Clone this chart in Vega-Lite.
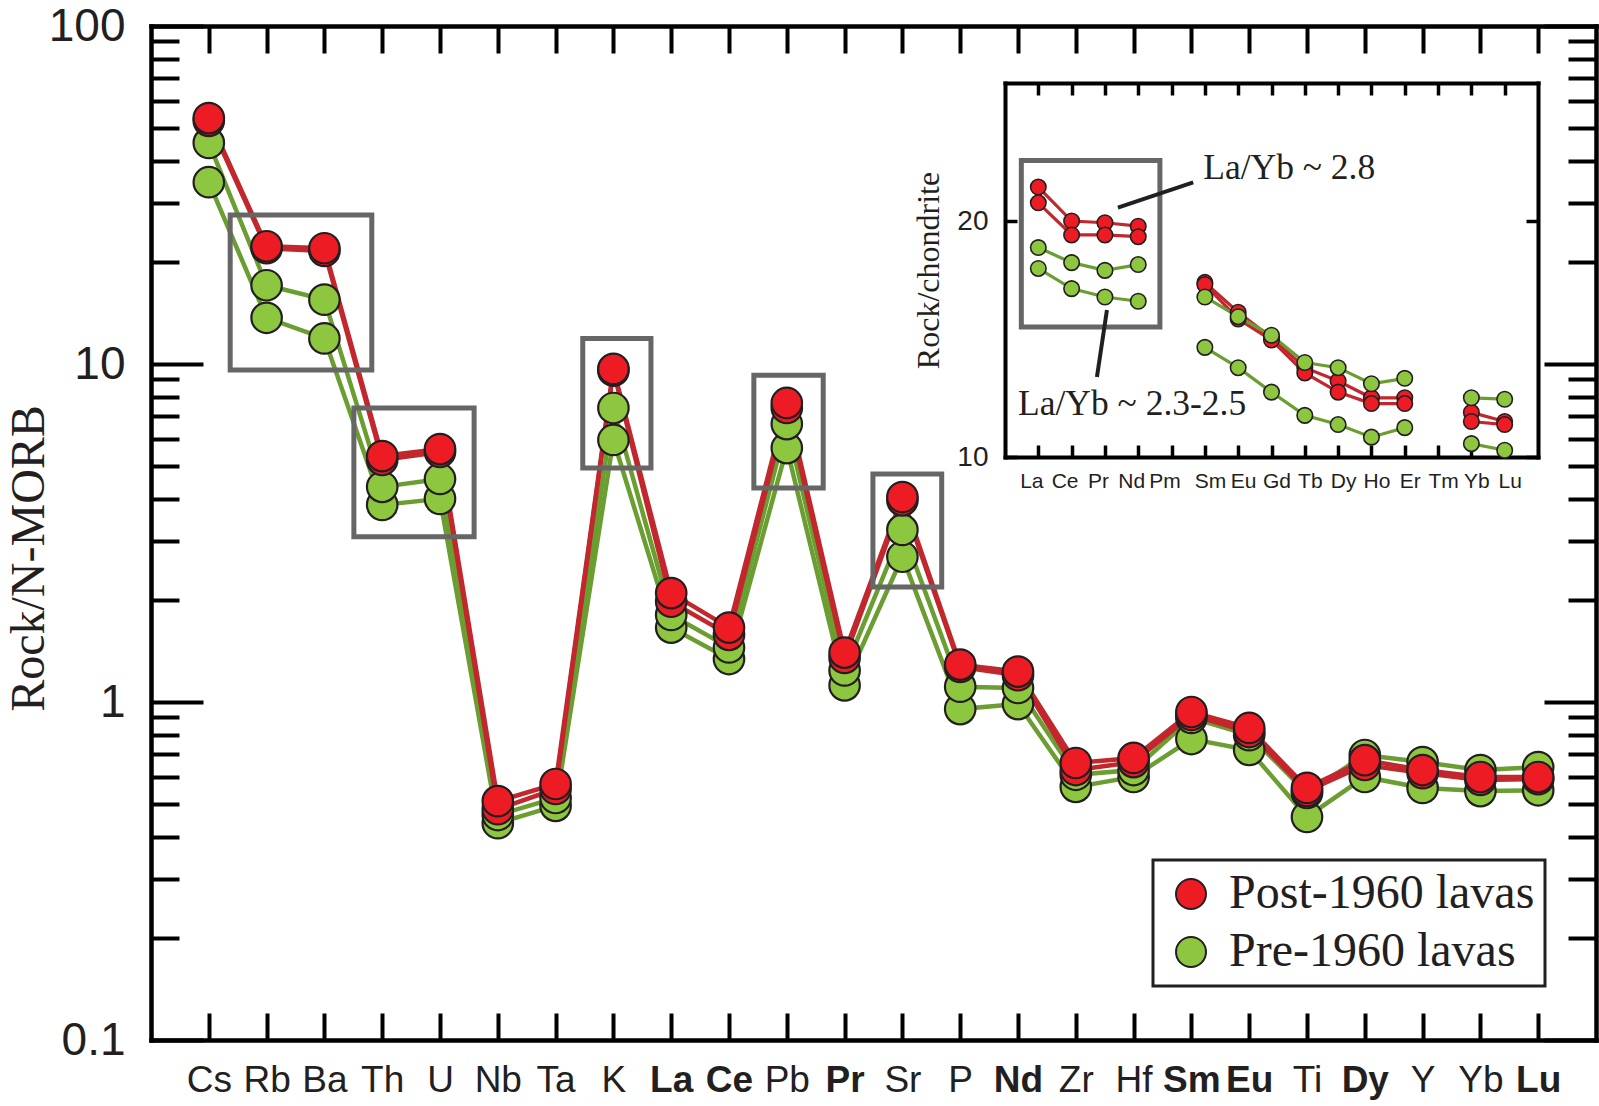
{
  "$schema": "https://vega.github.io/schema/vega-lite/v6.json",
  "width": 1445,
  "height": 1014,
  "autosize": {"type": "none"},
  "padding": {"left": 151, "top": 26, "right": 3, "bottom": 66},
  "background": "white",
  "config": {
    "view": {"stroke": null},
    "axis": {"grid": false, "domainColor": "#000000", "tickColor": "#000000", "labelColor": "#231f20", "titleColor": "#231f20", "labelFlush": false, "labelOverlap": false, "domainCap": "square"},
    "legend": {"strokeWidth": 3}
  },
  "datasets": {
    "main": [
      {"i":1,"el":"Cs","s":"G2","g":"Pre-1960 lavas","v":34.5},
      {"i":2,"el":"Rb","s":"G2","g":"Pre-1960 lavas","v":13.7},
      {"i":3,"el":"Ba","s":"G2","g":"Pre-1960 lavas","v":11.9},
      {"i":4,"el":"Th","s":"G2","g":"Pre-1960 lavas","v":3.83},
      {"i":5,"el":"U","s":"G2","g":"Pre-1960 lavas","v":3.99},
      {"i":6,"el":"Nb","s":"G2","g":"Pre-1960 lavas","v":0.438},
      {"i":7,"el":"Ta","s":"G2","g":"Pre-1960 lavas","v":0.493},
      {"i":8,"el":"K","s":"G2","g":"Pre-1960 lavas","v":5.96},
      {"i":9,"el":"La","s":"G2","g":"Pre-1960 lavas","v":1.66},
      {"i":10,"el":"Ce","s":"G2","g":"Pre-1960 lavas","v":1.34},
      {"i":11,"el":"Pb","s":"G2","g":"Pre-1960 lavas","v":5.64},
      {"i":12,"el":"Pr","s":"G2","g":"Pre-1960 lavas","v":1.12},
      {"i":13,"el":"Sr","s":"G2","g":"Pre-1960 lavas","v":2.69},
      {"i":14,"el":"P","s":"G2","g":"Pre-1960 lavas","v":0.953},
      {"i":15,"el":"Nd","s":"G2","g":"Pre-1960 lavas","v":0.986},
      {"i":16,"el":"Zr","s":"G2","g":"Pre-1960 lavas","v":0.561},
      {"i":17,"el":"Hf","s":"G2","g":"Pre-1960 lavas","v":0.600},
      {"i":18,"el":"Sm","s":"G2","g":"Pre-1960 lavas","v":0.777},
      {"i":19,"el":"Eu","s":"G2","g":"Pre-1960 lavas","v":0.721},
      {"i":20,"el":"Ti","s":"G2","g":"Pre-1960 lavas","v":0.457},
      {"i":21,"el":"Dy","s":"G2","g":"Pre-1960 lavas","v":0.600},
      {"i":22,"el":"Y","s":"G2","g":"Pre-1960 lavas","v":0.557},
      {"i":23,"el":"Yb","s":"G2","g":"Pre-1960 lavas","v":0.545},
      {"i":24,"el":"Lu","s":"G2","g":"Pre-1960 lavas","v":0.548},
      {"i":1,"el":"Cs","s":"G1","g":"Pre-1960 lavas","v":45.1},
      {"i":2,"el":"Rb","s":"G1","g":"Pre-1960 lavas","v":17.1},
      {"i":3,"el":"Ba","s":"G1","g":"Pre-1960 lavas","v":15.5},
      {"i":4,"el":"Th","s":"G1","g":"Pre-1960 lavas","v":4.33},
      {"i":5,"el":"U","s":"G1","g":"Pre-1960 lavas","v":4.57},
      {"i":6,"el":"Nb","s":"G1","g":"Pre-1960 lavas","v":0.463},
      {"i":7,"el":"Ta","s":"G1","g":"Pre-1960 lavas","v":0.520},
      {"i":8,"el":"K","s":"G1","g":"Pre-1960 lavas","v":7.41},
      {"i":9,"el":"La","s":"G1","g":"Pre-1960 lavas","v":1.81},
      {"i":10,"el":"Ce","s":"G1","g":"Pre-1960 lavas","v":1.45},
      {"i":11,"el":"Pb","s":"G1","g":"Pre-1960 lavas","v":6.64},
      {"i":12,"el":"Pr","s":"G1","g":"Pre-1960 lavas","v":1.24},
      {"i":13,"el":"Sr","s":"G1","g":"Pre-1960 lavas","v":3.23},
      {"i":14,"el":"P","s":"G1","g":"Pre-1960 lavas","v":1.11},
      {"i":15,"el":"Nd","s":"G1","g":"Pre-1960 lavas","v":1.10},
      {"i":16,"el":"Zr","s":"G1","g":"Pre-1960 lavas","v":0.609},
      {"i":17,"el":"Hf","s":"G1","g":"Pre-1960 lavas","v":0.629},
      {"i":18,"el":"Sm","s":"G1","g":"Pre-1960 lavas","v":0.897},
      {"i":19,"el":"Eu","s":"G1","g":"Pre-1960 lavas","v":0.798},
      {"i":20,"el":"Ti","s":"G1","g":"Pre-1960 lavas","v":0.538},
      {"i":21,"el":"Dy","s":"G1","g":"Pre-1960 lavas","v":0.697},
      {"i":22,"el":"Y","s":"G1","g":"Pre-1960 lavas","v":0.664},
      {"i":23,"el":"Yb","s":"G1","g":"Pre-1960 lavas","v":0.629},
      {"i":24,"el":"Lu","s":"G1","g":"Pre-1960 lavas","v":0.642},
      {"i":1,"el":"Cs","s":"R2","g":"Post-1960 lavas","v":52.4},
      {"i":2,"el":"Rb","s":"R2","g":"Post-1960 lavas","v":22.0},
      {"i":3,"el":"Ba","s":"R2","g":"Post-1960 lavas","v":21.6},
      {"i":4,"el":"Th","s":"R2","g":"Post-1960 lavas","v":5.20},
      {"i":5,"el":"U","s":"R2","g":"Post-1960 lavas","v":5.49},
      {"i":6,"el":"Nb","s":"R2","g":"Post-1960 lavas","v":0.482},
      {"i":7,"el":"Ta","s":"R2","g":"Post-1960 lavas","v":0.553},
      {"i":8,"el":"K","s":"R2","g":"Post-1960 lavas","v":9.55},
      {"i":9,"el":"La","s":"R2","g":"Post-1960 lavas","v":1.98},
      {"i":10,"el":"Ce","s":"R2","g":"Post-1960 lavas","v":1.58},
      {"i":11,"el":"Pb","s":"R2","g":"Post-1960 lavas","v":7.41},
      {"i":12,"el":"Pr","s":"R2","g":"Post-1960 lavas","v":1.35},
      {"i":13,"el":"Sr","s":"R2","g":"Post-1960 lavas","v":3.95},
      {"i":14,"el":"P","s":"R2","g":"Post-1960 lavas","v":1.27},
      {"i":15,"el":"Nd","s":"R2","g":"Post-1960 lavas","v":1.20},
      {"i":16,"el":"Zr","s":"R2","g":"Post-1960 lavas","v":0.629},
      {"i":17,"el":"Hf","s":"R2","g":"Post-1960 lavas","v":0.664},
      {"i":18,"el":"Sm","s":"R2","g":"Post-1960 lavas","v":0.915},
      {"i":19,"el":"Eu","s":"R2","g":"Post-1960 lavas","v":0.815},
      {"i":20,"el":"Ti","s":"R2","g":"Post-1960 lavas","v":0.545},
      {"i":21,"el":"Dy","s":"R2","g":"Post-1960 lavas","v":0.651},
      {"i":22,"el":"Y","s":"R2","g":"Post-1960 lavas","v":0.616},
      {"i":23,"el":"Yb","s":"R2","g":"Post-1960 lavas","v":0.588},
      {"i":24,"el":"Lu","s":"R2","g":"Post-1960 lavas","v":0.591},
      {"i":1,"el":"Cs","s":"R1","g":"Post-1960 lavas","v":53.4},
      {"i":2,"el":"Rb","s":"R1","g":"Post-1960 lavas","v":22.3},
      {"i":3,"el":"Ba","s":"R1","g":"Post-1960 lavas","v":22.0},
      {"i":4,"el":"Th","s":"R1","g":"Post-1960 lavas","v":5.34},
      {"i":5,"el":"U","s":"R1","g":"Post-1960 lavas","v":5.60},
      {"i":6,"el":"Nb","s":"R1","g":"Post-1960 lavas","v":0.509},
      {"i":7,"el":"Ta","s":"R1","g":"Post-1960 lavas","v":0.572},
      {"i":8,"el":"K","s":"R1","g":"Post-1960 lavas","v":9.67},
      {"i":9,"el":"La","s":"R1","g":"Post-1960 lavas","v":2.10},
      {"i":10,"el":"Ce","s":"R1","g":"Post-1960 lavas","v":1.66},
      {"i":11,"el":"Pb","s":"R1","g":"Post-1960 lavas","v":7.67},
      {"i":12,"el":"Pr","s":"R1","g":"Post-1960 lavas","v":1.40},
      {"i":13,"el":"Sr","s":"R1","g":"Post-1960 lavas","v":4.04},
      {"i":14,"el":"P","s":"R1","g":"Post-1960 lavas","v":1.29},
      {"i":15,"el":"Nd","s":"R1","g":"Post-1960 lavas","v":1.23},
      {"i":16,"el":"Zr","s":"R1","g":"Post-1960 lavas","v":0.660},
      {"i":17,"el":"Hf","s":"R1","g":"Post-1960 lavas","v":0.683},
      {"i":18,"el":"Sm","s":"R1","g":"Post-1960 lavas","v":0.934},
      {"i":19,"el":"Eu","s":"R1","g":"Post-1960 lavas","v":0.838},
      {"i":20,"el":"Ti","s":"R1","g":"Post-1960 lavas","v":0.557},
      {"i":21,"el":"Dy","s":"R1","g":"Post-1960 lavas","v":0.673},
      {"i":22,"el":"Y","s":"R1","g":"Post-1960 lavas","v":0.629},
      {"i":23,"el":"Yb","s":"R1","g":"Post-1960 lavas","v":0.600},
      {"i":24,"el":"Lu","s":"R1","g":"Post-1960 lavas","v":0.600}
    ],
    "mboxes": [
      {"i":1.37,"i2":3.82,"v":9.6,"v2":27.6},
      {"i":3.51,"i2":5.59,"v":3.08,"v2":7.41},
      {"i":7.47,"i2":8.65,"v":4.92,"v2":11.9},
      {"i":10.43,"i2":11.63,"v":4.30,"v2":9.27},
      {"i":12.49,"i2":13.68,"v":2.19,"v2":4.73}
    ],
    "ree": [
      {"i":1,"el":"La","s":"R1","seg":"a","g":"Post-1960 lavas","v":22.1},
      {"i":2,"el":"Ce","s":"R1","seg":"a","g":"Post-1960 lavas","v":20.0},
      {"i":3,"el":"Pr","s":"R1","seg":"a","g":"Post-1960 lavas","v":19.9},
      {"i":4,"el":"Nd","s":"R1","seg":"a","g":"Post-1960 lavas","v":19.7},
      {"i":6,"el":"Sm","s":"R1","seg":"b","g":"Post-1960 lavas","v":16.7},
      {"i":7,"el":"Eu","s":"R1","seg":"b","g":"Post-1960 lavas","v":15.3},
      {"i":8,"el":"Gd","s":"R1","seg":"b","g":"Post-1960 lavas","v":14.2},
      {"i":9,"el":"Tb","s":"R1","seg":"b","g":"Post-1960 lavas","v":13.0},
      {"i":10,"el":"Dy","s":"R1","seg":"b","g":"Post-1960 lavas","v":12.5},
      {"i":11,"el":"Ho","s":"R1","seg":"b","g":"Post-1960 lavas","v":11.9},
      {"i":12,"el":"Er","s":"R1","seg":"b","g":"Post-1960 lavas","v":11.9},
      {"i":14,"el":"Yb","s":"R1","seg":"c","g":"Post-1960 lavas","v":11.4},
      {"i":15,"el":"Lu","s":"R1","seg":"c","g":"Post-1960 lavas","v":11.1},
      {"i":1,"el":"La","s":"R2","seg":"a","g":"Post-1960 lavas","v":21.1},
      {"i":2,"el":"Ce","s":"R2","seg":"a","g":"Post-1960 lavas","v":19.2},
      {"i":3,"el":"Pr","s":"R2","seg":"a","g":"Post-1960 lavas","v":19.2},
      {"i":4,"el":"Nd","s":"R2","seg":"a","g":"Post-1960 lavas","v":19.1},
      {"i":6,"el":"Sm","s":"R2","seg":"b","g":"Post-1960 lavas","v":16.6},
      {"i":7,"el":"Eu","s":"R2","seg":"b","g":"Post-1960 lavas","v":15.0},
      {"i":8,"el":"Gd","s":"R2","seg":"b","g":"Post-1960 lavas","v":14.1},
      {"i":9,"el":"Tb","s":"R2","seg":"b","g":"Post-1960 lavas","v":12.8},
      {"i":10,"el":"Dy","s":"R2","seg":"b","g":"Post-1960 lavas","v":12.1},
      {"i":11,"el":"Ho","s":"R2","seg":"b","g":"Post-1960 lavas","v":11.7},
      {"i":12,"el":"Er","s":"R2","seg":"b","g":"Post-1960 lavas","v":11.7},
      {"i":14,"el":"Yb","s":"R2","seg":"c","g":"Post-1960 lavas","v":11.1},
      {"i":15,"el":"Lu","s":"R2","seg":"c","g":"Post-1960 lavas","v":11.0},
      {"i":1,"el":"La","s":"G1","seg":"a","g":"Pre-1960 lavas","v":18.5},
      {"i":2,"el":"Ce","s":"G1","seg":"a","g":"Pre-1960 lavas","v":17.7},
      {"i":3,"el":"Pr","s":"G1","seg":"a","g":"Pre-1960 lavas","v":17.3},
      {"i":4,"el":"Nd","s":"G1","seg":"a","g":"Pre-1960 lavas","v":17.6},
      {"i":6,"el":"Sm","s":"G1","seg":"b","g":"Pre-1960 lavas","v":16.0},
      {"i":7,"el":"Eu","s":"G1","seg":"b","g":"Pre-1960 lavas","v":15.1},
      {"i":8,"el":"Gd","s":"G1","seg":"b","g":"Pre-1960 lavas","v":14.3},
      {"i":9,"el":"Tb","s":"G1","seg":"b","g":"Pre-1960 lavas","v":13.2},
      {"i":10,"el":"Dy","s":"G1","seg":"b","g":"Pre-1960 lavas","v":13.0},
      {"i":11,"el":"Ho","s":"G1","seg":"b","g":"Pre-1960 lavas","v":12.4},
      {"i":12,"el":"Er","s":"G1","seg":"b","g":"Pre-1960 lavas","v":12.6},
      {"i":14,"el":"Yb","s":"G1","seg":"c","g":"Pre-1960 lavas","v":11.9},
      {"i":15,"el":"Lu","s":"G1","seg":"c","g":"Pre-1960 lavas","v":11.85},
      {"i":1,"el":"La","s":"G2","seg":"a","g":"Pre-1960 lavas","v":17.4},
      {"i":2,"el":"Ce","s":"G2","seg":"a","g":"Pre-1960 lavas","v":16.4},
      {"i":3,"el":"Pr","s":"G2","seg":"a","g":"Pre-1960 lavas","v":16.0},
      {"i":4,"el":"Nd","s":"G2","seg":"a","g":"Pre-1960 lavas","v":15.8},
      {"i":6,"el":"Sm","s":"G2","seg":"b","g":"Pre-1960 lavas","v":13.8},
      {"i":7,"el":"Eu","s":"G2","seg":"b","g":"Pre-1960 lavas","v":13.0},
      {"i":8,"el":"Gd","s":"G2","seg":"b","g":"Pre-1960 lavas","v":12.1},
      {"i":9,"el":"Tb","s":"G2","seg":"b","g":"Pre-1960 lavas","v":11.3},
      {"i":10,"el":"Dy","s":"G2","seg":"b","g":"Pre-1960 lavas","v":11.0},
      {"i":11,"el":"Ho","s":"G2","seg":"b","g":"Pre-1960 lavas","v":10.6},
      {"i":12,"el":"Er","s":"G2","seg":"b","g":"Pre-1960 lavas","v":10.9},
      {"i":14,"el":"Yb","s":"G2","seg":"c","g":"Pre-1960 lavas","v":10.4},
      {"i":15,"el":"Lu","s":"G2","seg":"c","g":"Pre-1960 lavas","v":10.2}
    ],
    "ibox": [{"i":0.49,"i2":4.65,"v":14.65,"v2":23.9}],
    "irules": [
      {"i":3.39,"v":20.8,"i2":5.65,"v2":22.4},
      {"i":3.06,"v":15.4,"i2":2.76,"v2":12.65}
    ],
    "inotes": [
      {"i":5.95,"v":22.6,"t":"La/Yb ~ 2.8"},
      {"i":0.39,"v":11.3,"t":"La/Yb ~ 2.3-2.5"}
    ]
  },
  "layer": [
    {
      "layer": [
        {
          "data": {"name": "main"},
          "mark": {"type": "line", "strokeWidth": 4.5},
          "encoding": {
            "x": {"field": "i", "type": "quantitative",
              "scale": {"domain": [0, 25], "nice": false, "zero": false},
              "axis": {"orient": "bottom", "title": null,
                "values": [1,2,3,4,5,6,7,8,9,10,11,12,13,14,15,16,17,18,19,20,21,22,23,24],
                "labelExpr": "['Cs','Rb','Ba','Th','U','Nb','Ta','K','La','Ce','Pb','Pr','Sr','P','Nd','Zr','Hf','Sm','Eu','Ti','Dy','Y','Yb','Lu'][datum.value - 1]",
                "labelFont": "Liberation Sans", "labelFontSize": 37, "labelPadding": 49,
                "labelFontWeight": {"condition": {"test": "indexof([9,10,12,15,18,19,21,24], datum.value) >= 0", "value": "bold"}, "value": "normal"},
                "tickSize": -27, "tickWidth": 4, "domainWidth": 4.5}},
            "y": {"field": "v", "type": "quantitative",
              "scale": {"type": "log", "domain": [0.1, 100], "nice": false},
              "axis": {"orient": "left",
                "values": [0.1,0.2,0.3,0.4,0.5,0.6,0.7,0.8,0.9,1,2,3,4,5,6,7,8,9,10,20,30,40,50,60,70,80,90,100],
                "labelExpr": "datum.value == 0.1 ? '0.1' : datum.value == 1 ? '1' : datum.value == 10 ? '10' : datum.value == 100 ? '100' : ''",
                "labelFont": "Liberation Sans", "labelFontSize": 46, "labelPadding": 78, "labelBaseline": "middle",
                "tickSize": {"condition": {"test": "datum.value == 0.1 || datum.value == 1 || datum.value == 10 || datum.value == 100", "value": -52}, "value": -28},
                "tickWidth": 4, "domainWidth": 4.5,
                "title": "Rock/N-MORB", "titleFont": "Liberation Serif", "titleFontSize": 48, "titleFontWeight": "normal",
                "titleAngle": -90, "titleBaseline": "middle", "titleAlign": "center", "titleX": -122, "titleY": 532}},
            "stroke": {"field": "g", "type": "nominal",
              "scale": {"range": ["#c1272d", "#6a9e31"]}, "legend": null},
            "detail": {"field": "s"}
          }
        },
        {
          "data": {"name": "mboxes"},
          "mark": {"type": "rect", "filled": false, "stroke": "#666666", "strokeWidth": 5},
          "encoding": {
            "x": {"field": "i", "type": "quantitative", "axis": null},
            "x2": {"field": "i2"},
            "y": {"field": "v", "type": "quantitative", "axis": null},
            "y2": {"field": "v2"}
          }
        },
        {
          "data": {"name": "main"},
          "mark": {"type": "point", "filled": true, "size": 930, "stroke": "#231f20", "strokeWidth": 2.2, "opacity": 1},
          "encoding": {
            "x": {"field": "i", "type": "quantitative",
              "axis": {"orient": "top", "title": null, "labels": false,
                "values": [1,2,3,4,5,6,7,8,9,10,11,12,13,14,15,16,17,18,19,20,21,22,23,24],
                "tickSize": -27, "tickWidth": 4, "domainWidth": 4.5}},
            "y": {"field": "v", "type": "quantitative",
              "axis": {"orient": "right", "title": null, "labels": false,
                "values": [0.1,0.2,0.3,0.4,0.5,0.6,0.7,0.8,0.9,1,2,3,4,5,6,7,8,9,10,20,30,40,50,60,70,80,90,100],
                "tickSize": {"condition": {"test": "datum.value == 0.1 || datum.value == 1 || datum.value == 10 || datum.value == 100", "value": -52}, "value": -28},
                "tickWidth": 4, "domainWidth": 4.5}},
            "fill": {"field": "g", "type": "nominal",
              "scale": {"domain": ["Post-1960 lavas", "Pre-1960 lavas"], "range": ["#ed1c24", "#8dc63f"]},
              "legend": {"orient": "none", "legendX": 1002, "legendY": 834, "title": null,
                "strokeColor": "#231f20", "fillColor": "white", "padding": 10, "rowPadding": 10,
                "labelFont": "Liberation Serif", "labelFontSize": 48, "labelColor": "#231f20", "labelOffset": 14, "labelLimit": 500,
                "symbolType": "circle", "symbolSize": 900, "symbolStrokeColor": "#231f20", "symbolStrokeWidth": 2, "symbolOffset": 4}}
          }
        }
      ],
      "resolve": {"axis": {"x": "independent", "y": "independent"}}
    },
    {
      "layer": [
        {
          "data": {"name": "ree"},
          "mark": {"type": "line", "strokeWidth": 3.2},
          "encoding": {
            "x": {"field": "i", "type": "quantitative",
              "scale": {"domain": [0, 16], "range": [854, 1387], "nice": false, "zero": false},
              "axis": {"orient": "bottom", "offset": -583, "title": null,
                "values": [1,2,3,4,5,6,7,8,9,10,11,12,13,14,15],
                "labelExpr": "['La','Ce','Pr','Nd','Pm','Sm','Eu','Gd','Tb','Dy','Ho','Er','Tm','Yb','Lu'][datum.value - 1]",
                "labelFont": "Liberation Sans", "labelFontSize": 21, "labelPadding": 25,
                "labelOffset": {"condition": {"test": "datum.value <= 5", "value": -7}, "value": 5},
                "tickSize": -12, "tickWidth": 3.5, "domainWidth": 4}},
            "y": {"field": "v", "type": "quantitative",
              "scale": {"type": "log", "domain": [10, 30], "range": [431, 57], "nice": false},
              "axis": {"orient": "left", "offset": -854, "values": [10, 20], "format": "d",
                "labelFont": "Liberation Sans", "labelFontSize": 28, "labelPadding": 29, "labelBaseline": "middle",
                "tickSize": -12, "tickWidth": 3.5, "domainWidth": 4,
                "title": "Rock/chondrite", "titleFont": "Liberation Serif", "titleFontSize": 32, "titleFontWeight": "normal",
                "titleAngle": -90, "titleBaseline": "middle", "titleAlign": "center", "titleX": -77, "titleY": 244}},
            "stroke": {"field": "g", "type": "nominal", "legend": null},
            "detail": [{"field": "s"}, {"field": "seg"}]
          }
        },
        {
          "data": {"name": "ibox"},
          "mark": {"type": "rect", "filled": false, "stroke": "#666666", "strokeWidth": 5},
          "encoding": {
            "x": {"field": "i", "type": "quantitative", "axis": null},
            "x2": {"field": "i2"},
            "y": {"field": "v", "type": "quantitative", "axis": null},
            "y2": {"field": "v2"}
          }
        },
        {
          "data": {"name": "irules"},
          "mark": {"type": "rule", "stroke": "#231f20", "strokeWidth": 4},
          "encoding": {
            "x": {"field": "i", "type": "quantitative", "axis": null},
            "x2": {"field": "i2"},
            "y": {"field": "v", "type": "quantitative", "axis": null},
            "y2": {"field": "v2"}
          }
        },
        {
          "data": {"name": "inotes"},
          "mark": {"type": "text", "align": "left", "baseline": "alphabetic", "font": "Liberation Serif", "fontSize": 35.5, "fill": "#231f20"},
          "encoding": {
            "x": {"field": "i", "type": "quantitative", "axis": null},
            "y": {"field": "v", "type": "quantitative", "axis": null},
            "text": {"field": "t"}
          }
        },
        {
          "data": {"name": "ree"},
          "mark": {"type": "point", "filled": true, "size": 240, "stroke": "#231f20", "strokeWidth": 1.6, "opacity": 1},
          "encoding": {
            "x": {"field": "i", "type": "quantitative",
              "axis": {"orient": "top", "offset": -57, "title": null, "labels": false,
                "values": [1,2,3,4,5,6,7,8,9,10,11,12,13,14,15],
                "tickSize": -12, "tickWidth": 3.5, "domainWidth": 4}},
            "y": {"field": "v", "type": "quantitative",
              "axis": {"orient": "right", "offset": -58, "title": null, "labels": false, "values": [10, 20],
                "tickSize": -12, "tickWidth": 3.5, "domainWidth": 4}},
            "fill": {"field": "g", "type": "nominal"}
          }
        }
      ],
      "resolve": {"axis": {"x": "independent", "y": "independent"}}
    }
  ],
  "resolve": {"scale": {"x": "independent", "y": "independent"}}
}
